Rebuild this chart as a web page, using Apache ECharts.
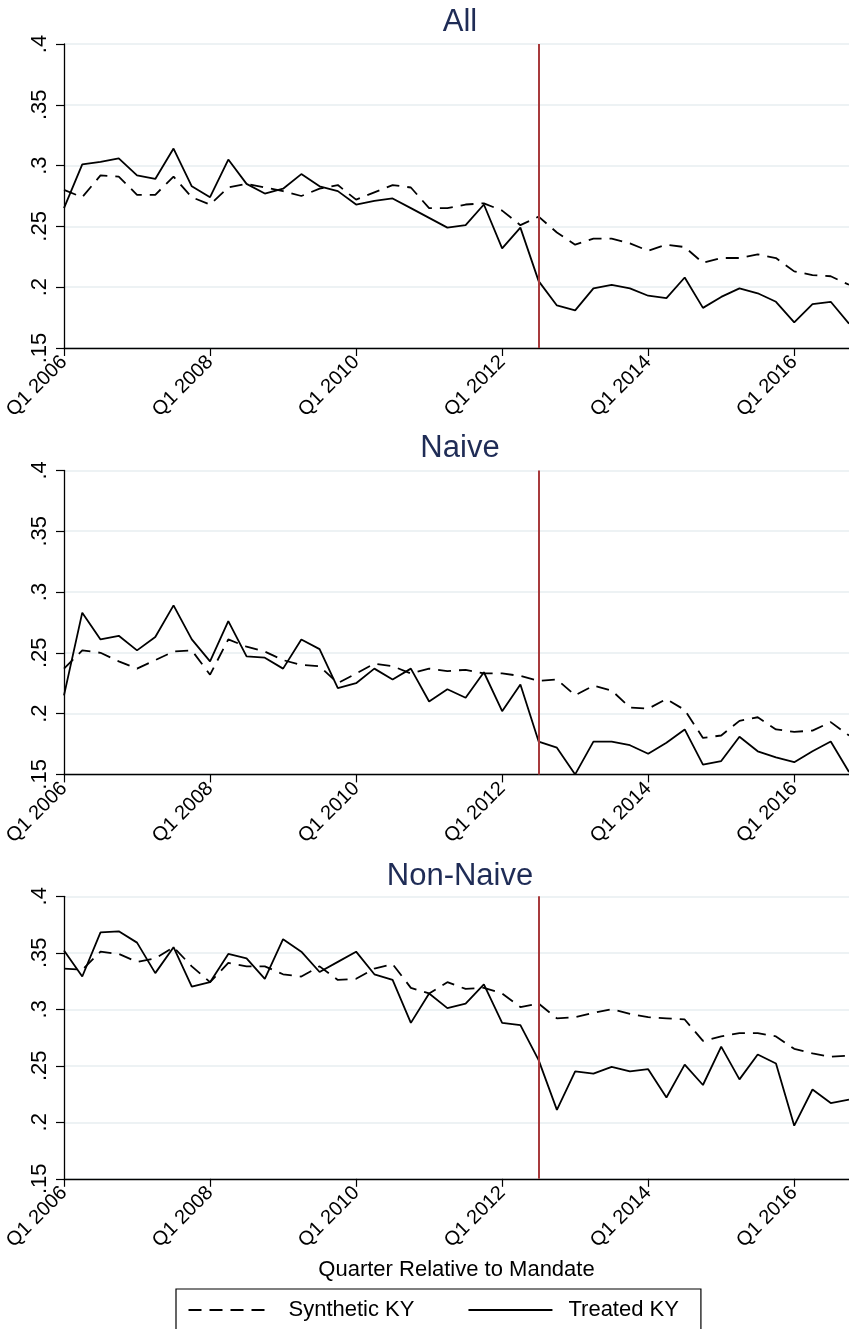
<!DOCTYPE html>
<html>
<head>
<meta charset="utf-8">
<script src="https://cdn.jsdelivr.net/npm/echarts@6/dist/echarts.min.js"></script>
<style>
  html, body { margin: 0; padding: 0; background: #ffffff; }
  #chart { width: 849px; height: 1329px; }
</style>
</head>
<body>
<div id="chart"></div>
<script>
// Quarters are counted from Q1 2006 (index 0) to Q4 2016 (index 43).
const firstYear = 2006;
const lastQuarterIndex = 43;
const tickLabels = ['Q1 2006', 'Q1 2008', 'Q1 2010', 'Q1 2012', 'Q1 2014', 'Q1 2016'];
const mandateQuarter = 26; // Q3 2012
const panelTitles = ['All', 'Naive', 'Non-Naive'];
const seriesNames = ['Synthetic KY', 'Treated KY'];
const xAxisTitle = 'Quarter Relative to Mandate';

// Panel "All"
const allSynthetic = [0.280, 0.274, 0.292, 0.291, 0.276, 0.276, 0.291, 0.274, 0.268, 0.282,
  0.285, 0.282, 0.279, 0.275, 0.281, 0.284, 0.272, 0.278, 0.284, 0.282,
  0.265, 0.265, 0.268, 0.269, 0.263, 0.251, 0.258, 0.245, 0.235, 0.240,
  0.240, 0.236, 0.230, 0.235, 0.233, 0.220, 0.224, 0.224, 0.227, 0.224,
  0.213, 0.210, 0.209, 0.202];
const allTreated = [0.265, 0.301, 0.303, 0.306, 0.292, 0.289, 0.314, 0.283, 0.274, 0.305,
  0.285, 0.277, 0.281, 0.293, 0.283, 0.279, 0.268, 0.271, 0.273, 0.265,
  0.257, 0.249, 0.251, 0.268, 0.232, 0.249, 0.205, 0.185, 0.181, 0.199,
  0.202, 0.199, 0.193, 0.191, 0.208, 0.183, 0.192, 0.199, 0.195, 0.188,
  0.171, 0.186, 0.188, 0.170];

// Panel "Naive"
const naiveSynthetic = [0.237, 0.252, 0.250, 0.243, 0.237, 0.244, 0.251, 0.252, 0.232, 0.261,
  0.255, 0.251, 0.244, 0.240, 0.239, 0.225, 0.233, 0.241, 0.239, 0.233,
  0.237, 0.235, 0.236, 0.233, 0.233, 0.231, 0.227, 0.228, 0.215, 0.223,
  0.219, 0.205, 0.204, 0.212, 0.203, 0.180, 0.182, 0.194, 0.197, 0.187,
  0.185, 0.186, 0.193, 0.182];
const naiveTreated = [0.215, 0.283, 0.261, 0.264, 0.252, 0.263, 0.289, 0.261, 0.243, 0.276,
  0.247, 0.246, 0.237, 0.261, 0.253, 0.221, 0.225, 0.237, 0.228, 0.237,
  0.210, 0.220, 0.213, 0.234, 0.202, 0.224, 0.177, 0.172, 0.150, 0.177,
  0.177, 0.174, 0.167, 0.176, 0.187, 0.158, 0.161, 0.181, 0.169, 0.164,
  0.160, 0.169, 0.177, 0.152];

// Panel "Non-Naive"
const nonNaiveSynthetic = [0.336, 0.335, 0.351, 0.349, 0.342, 0.345, 0.355, 0.338, 0.324, 0.341,
  0.338, 0.338, 0.331, 0.329, 0.338, 0.326, 0.327, 0.336, 0.340, 0.319,
  0.314, 0.324, 0.318, 0.319, 0.314, 0.302, 0.305, 0.292, 0.293, 0.297,
  0.300, 0.296, 0.293, 0.292, 0.291, 0.272, 0.276, 0.279, 0.279, 0.276,
  0.265, 0.261, 0.258, 0.259];
const nonNaiveTreated = [0.352, 0.329, 0.368, 0.369, 0.359, 0.332, 0.355, 0.320, 0.324, 0.349,
  0.345, 0.327, 0.362, 0.351, 0.333, 0.342, 0.351, 0.331, 0.326, 0.288,
  0.314, 0.301, 0.305, 0.322, 0.288, 0.286, 0.255, 0.211, 0.245, 0.243,
  0.249, 0.245, 0.247, 0.222, 0.251, 0.233, 0.267, 0.238, 0.260, 0.252,
  0.197, 0.229, 0.217, 0.220];

const panelSynthetic = [allSynthetic, naiveSynthetic, nonNaiveSynthetic];
const panelTreated = [allTreated, naiveTreated, nonNaiveTreated];

// Plot areas (pixels)
const plotLeft = 64;
const plotWidth = 792;
const plotBoxes = [
  { top: 44, height: 304 },
  { top: 470.4, height: 304 },
  { top: 896.3, height: 282.5 }
];
const titleCenters = [22, 448.5, 876];

const FONT = '"Liberation Sans", Arial, Helvetica, sans-serif';
const GRID_COLOR = '#e7eef0';
const MANDATE_COLOR = '#a83a3c';
const TITLE_COLOR = '#1f2c56';

const toPairs = arr => arr.map((v, i) => [i, v]);
const fmtY = v => String(+v.toFixed(2)).replace(/^0\./, '.');
const fmtX = v => (v % 8 === 0 ? tickLabels[v / 8] : '');

const grids = [], xAxes = [], yAxes = [], series = [], graphics = [];

plotBoxes.forEach((box, p) => {
  grids.push({ left: plotLeft, top: box.top, width: plotWidth, height: box.height, containLabel: false });
  xAxes.push({
    type: 'value', gridIndex: p, min: 0, max: lastQuarterIndex, interval: 8,
    axisLine: { show: true, onZero: false, lineStyle: { color: '#000', width: 1.3 } },
    axisTick: { show: true, length: 8, lineStyle: { color: '#000', width: 1.2 } },
    axisLabel: { show: true, rotate: 45, margin: 11, fontSize: 20, fontFamily: FONT, color: '#000',
      formatter: fmtX, showMaxLabel: false },
    splitLine: { show: false },
    name: p === 2 ? xAxisTitle : '',
    nameLocation: 'middle', nameGap: 80,
    nameTextStyle: { fontSize: 22, fontFamily: FONT, color: '#000' }
  });
  yAxes.push({
    type: 'value', gridIndex: p, min: 0.15, max: 0.4, interval: 0.05,
    axisLine: { show: true, lineStyle: { color: '#000', width: 1.3 } },
    axisTick: { show: true, length: 8, lineStyle: { color: '#000', width: 1.2 } },
    axisLabel: { show: true, rotate: 90, margin: 13, fontSize: 22, fontFamily: FONT, color: '#000', formatter: fmtY },
    splitLine: { show: true, lineStyle: { color: GRID_COLOR, width: 1.5 } }
  });
  series.push({
    name: seriesNames[0], type: 'line', xAxisIndex: p, yAxisIndex: p,
    data: toPairs(panelSynthetic[p]), symbol: 'none', showSymbol: false, clip: true,
    lineStyle: { color: '#000', width: 1.8, type: [13, 8] }, itemStyle: { color: '#000' },
    emphasis: { disabled: true }, animation: false, z: 3
  });
  series.push({
    name: seriesNames[1], type: 'line', xAxisIndex: p, yAxisIndex: p,
    data: toPairs(panelTreated[p]), symbol: 'none', showSymbol: false, clip: true,
    lineStyle: { color: '#000', width: 1.8, type: 'solid' }, itemStyle: { color: '#000' },
    emphasis: { disabled: true }, animation: false, z: 3,
    markLine: {
      silent: true, symbol: 'none', animation: false,
      label: { show: false },
      lineStyle: { color: MANDATE_COLOR, width: 2, type: 'solid' },
      data: [{ xAxis: mandateQuarter }]
    }
  });
  graphics.push({
    type: 'text', x: plotLeft + plotWidth / 2, y: titleCenters[p], silent: true,
    style: { text: panelTitles[p], fontSize: 31, fontFamily: FONT, fill: TITLE_COLOR,
      align: 'center', verticalAlign: 'middle' }
  });
});

const chart = echarts.init(document.getElementById('chart'), null, { renderer: 'canvas' });
chart.setOption({
  backgroundColor: '#ffffff',
  animation: false,
  grid: grids,
  xAxis: xAxes,
  yAxis: yAxes,
  series: series,
  graphic: graphics,
  legend: {
    data: seriesNames,
    left: 176, top: 1289,
    orient: 'horizontal',
    itemWidth: 84, itemHeight: 22, itemGap: 53,
    padding: [10, 22, 14, 11.5],
    borderColor: '#000', borderWidth: 1.2,
    itemStyle: { opacity: 0 },
    textStyle: { fontSize: 22, fontFamily: FONT, color: '#000', padding: [0, 0, 0, 11] },
    selectedMode: false
  }
});
</script>
</body>
</html>
